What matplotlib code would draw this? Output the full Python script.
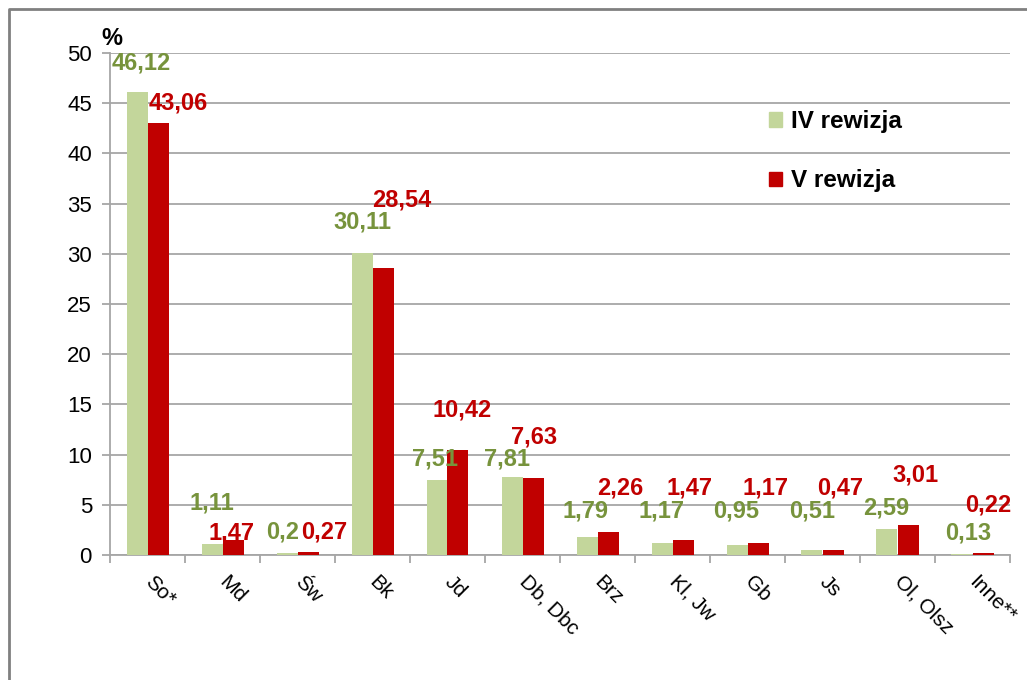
import numpy as np
import matplotlib
matplotlib.use("Agg")
from matplotlib import pyplot as plt
from matplotlib.patches import Patch
from matplotlib.lines import Line2D

plt.rcParams['font.family'] = ['Liberation Sans', 'DejaVu Sans']

categories = ['So*', 'Md', 'Św', 'Bk', 'Jd', 'Db, Dbc', 'Brz', 'Kl, Jw', 'Gb', 'Js', 'Ol, Olsz', 'Inne**']
rev4 = [46.12, 1.11, 0.2, 30.11, 7.51, 7.81, 1.79, 1.17, 0.95, 0.51, 2.59, 0.13]
rev5 = [43.06, 1.47, 0.27, 28.54, 10.42, 7.63, 2.26, 1.47, 1.17, 0.47, 3.01, 0.22]
labels4 = ['46,12', '1,11', '0,2', '30,11', '7,51', '7,81', '1,79', '1,17', '0,95', '0,51', '2,59', '0,13']
labels5 = ['43,06', '1,47', '0,27', '28,54', '10,42', '7,63', '2,26', '1,47', '1,17', '0,47', '3,01', '0,22']
series_names = ['IV rewizja', 'V rewizja']

# label offsets (pixels) from top of each bar, as placed in the original
off4 = [(4, 29), (0, 41), (-4, 21), (0, 31), (-2, 21), (-5, 18), (-2, 26), (-1, 32), (-1, 34), (0, 39), (-1, 21), (6, 21)]
off5 = [(20, 20), (-1, 7), (16, 20), (19, 68), (4, 40), (1, 41), (12, 44), (7, 52), (8, 55), (7, 62), (7, 50), (5, 48)]

green = '#C3D69B'
red = '#C00000'
green_txt = '#77933C'
grid_c = '#a6a6a6'

fig = plt.figure(figsize=(10.27, 6.8), dpi=100)
# outer chart border: only left and top edges show in the original
bx, by = 9 / 1027, 1 - 9 / 680
fig.add_artist(Line2D([bx, bx, 1.0], [0.0, by, by], transform=fig.transFigure,
                      color='#808080', linewidth=2))
ax = fig.add_axes([110 / 1027, 1 - 555 / 680, 900 / 1027, (555 - 53) / 680])

x = np.arange(len(categories))
w = 0.28
ax.bar(x - w / 2, rev4, w, color=green, zorder=3)
ax.bar(x + w / 2, rev5, w, color=red, zorder=3)

for i in range(len(categories)):
    ax.annotate(labels4[i], (x[i] - w / 2, rev4[i]), xytext=off4[i], textcoords='offset pixels',
                ha='center', va='center', fontsize=17, fontweight='bold', color=green_txt, zorder=4)
    ax.annotate(labels5[i], (x[i] + w / 2, rev5[i]), xytext=off5[i], textcoords='offset pixels',
                ha='center', va='center', fontsize=17, fontweight='bold', color=red, zorder=4)

ax.set_xlim(-0.5, len(categories) - 0.5)
ax.set_ylim(0, 50)
ax.set_yticks(np.arange(0, 51, 5))
ax.yaxis.grid(True, color=grid_c, linewidth=1.3, zorder=0)
ax.set_axisbelow(True)

ax.set_xticks(np.arange(-0.5, len(categories)), labels=[])
ax.set_xticks(x, labels=categories, minor=True)
ax.tick_params(axis='x', which='major', length=6, color=grid_c, width=1.3)
ax.tick_params(axis='x', which='minor', length=0, pad=17, labelsize=15)
for t in ax.get_xticklabels(minor=True):
    t.set_rotation(-45)
    t.set_rotation_mode('anchor')
    t.set_ha('left')
    t.set_va('center')
ax.tick_params(axis='y', length=6, color=grid_c, width=1.3, pad=7, labelsize=16)

for s in ['top', 'right']:
    ax.spines[s].set_visible(False)
for s in ['left', 'bottom']:
    ax.spines[s].set_color(grid_c)
    ax.spines[s].set_linewidth(1.3)

ax.text(2 / 900, 1.028, '%', transform=ax.transAxes, fontsize=17, fontweight='bold',
        ha='center', va='center')

handles = [Patch(color=green), Patch(color=red)]
ax.legend(handles, series_names, loc='upper left', bbox_to_anchor=(0.708, 0.93),
          frameon=False, prop={'size': 17.5, 'weight': 'bold'}, handlelength=0.55, handleheight=0.55,
          handletextpad=0.35, labelspacing=1.5)

fig.savefig('out.png', dpi=100)
